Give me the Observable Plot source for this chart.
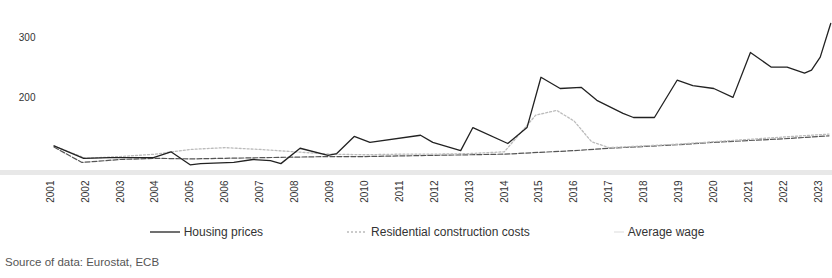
<!DOCTYPE html>
<html>
<head>
<meta charset="utf-8">
<script src="https://cdn.jsdelivr.net/npm/d3@7"></script>
<script src="https://cdn.jsdelivr.net/npm/@observablehq/plot@0.6"></script>
<style>
  body { margin: 0; background: #fff; font-family: "Liberation Sans", Arial, sans-serif; }
  #chart svg { display: block; }
  .legend { display: flex; justify-content: center; gap: 84px; font-size: 12px; color: #333; margin-top: 7px; padding-left: 22px; }
  .legend span.item { display: flex; align-items: center; gap: 4px; }
  .caption { font-size: 11.5px; color: #555; margin: 17px 0 0 5px; }
</style>
</head>
<body>
<div id="chart"></div>
<div class="legend">
  <span class="item"><svg width="30" height="8"><line x1="0" y1="4" x2="30" y2="4" stroke="#222" stroke-width="1.3"/></svg>Housing prices</span>
  <span class="item"><svg width="20" height="8"><line x1="0" y1="4" x2="20" y2="4" stroke="#bbb" stroke-width="1.3" stroke-dasharray="2,2"/></svg>Residential construction costs</span>
  <span class="item"><svg width="10" height="8"><line x1="0" y1="4" x2="10" y2="4" stroke="#e4e4e4" stroke-width="1.3"/></svg>Average wage</span>
</div>
<div class="caption">Source of data: Eurostat, ECB</div>
<script>
const yearTicks = d3.range(2001, 2024);
const yTicks = [200, 300];

const housingYears  = [2001.1, 2001.95, 2002.7, 2003.95, 2004.45, 2005.0, 2005.3, 2006.25, 2006.8, 2007.3, 2007.6, 2008.15, 2008.95, 2009.2, 2009.7, 2010.15, 2011.6, 2011.95, 2012.75, 2013.1, 2014.1, 2014.65, 2015.05, 2015.6, 2016.2, 2016.65, 2017.4, 2017.7, 2018.3, 2018.95, 2019.4, 2020.0, 2020.55, 2021.05, 2021.65, 2022.1, 2022.6, 2022.8, 2023.05, 2023.35];
const housingValues = [118, 97, 98, 98, 108, 86, 88, 90, 95, 93, 88, 114, 102, 105, 134, 124, 136, 124, 110, 149, 122, 149, 234, 215, 217, 195, 173, 166, 166, 229, 220, 215, 200, 276, 251, 251, 241, 246, 268, 325];

const constructionYears  = [2001.1, 2002.0, 2003.0, 2004.0, 2005.0, 2006.0, 2007.0, 2008.0, 2009.0, 2010.0, 2011.0, 2012.0, 2013.0, 2014.0, 2014.9, 2015.5, 2016.0, 2016.5, 2017.0, 2018.0, 2019.0, 2020.0, 2021.0, 2022.0, 2023.3];
const constructionValues = [118, 97, 100, 104, 112, 115, 112, 108, 104, 103, 104, 104, 105, 108, 170, 178, 160, 125, 115, 118, 121, 125, 129, 133, 138];

const wageYears  = [2001.1, 2001.9, 2003.0, 2004.0, 2005.0, 2006.0, 2007.0, 2008.0, 2009.0, 2010.0, 2011.0, 2012.0, 2013.0, 2014.0, 2015.0, 2016.0, 2017.0, 2018.0, 2019.0, 2020.0, 2021.0, 2022.0, 2023.3];
const wageValues = [116, 90, 95, 97, 96, 97, 98, 99, 100, 100, 101, 102, 103, 104, 107, 110, 114, 117, 120, 124, 127, 130, 135];

const toRows = (xs, vs) => xs.map((x, i) => ({x, v: vs[i]}));
const housing = toRows(housingYears, housingValues);
const construction = toRows(constructionYears, constructionValues);
const wage = toRows(wageYears, wageValues);

const chart = Plot.plot({
  width: 832,
  height: 218,
  marginTop: 20,
  marginBottom: 46,
  marginLeft: 0,
  marginRight: 0,
  style: {fontFamily: "Liberation Sans, Arial, sans-serif", background: "#fff"},
  x: {domain: [2001, 2023], range: [50, 818]},
  y: {domain: [73, 330]},
  marks: [
    Plot.ruleY([73], {stroke: "#e8e8e8", strokeWidth: 5}),
    Plot.axisY({ticks: yTicks, tickSize: 0, tickPadding: 3, dx: 38, fontSize: 10, fill: "#333", label: null}),
    Plot.axisX({ticks: yearTicks, tickFormat: d3.format("d"), tickSize: 0, tickPadding: 8, tickRotate: -90, fontSize: 10, fill: "#333", label: null}),
    Plot.line(wage, {x: "x", y: "v", stroke: "#555", strokeWidth: 1.2, strokeDasharray: "5,2"}),
    Plot.line(construction, {x: "x", y: "v", stroke: "#bbb", strokeWidth: 1.3, strokeDasharray: "2,2"}),
    Plot.line(housing, {x: "x", y: "v", stroke: "#222", strokeWidth: 1.3})
  ]
});
document.getElementById("chart").append(chart);
</script>
</body>
</html>
